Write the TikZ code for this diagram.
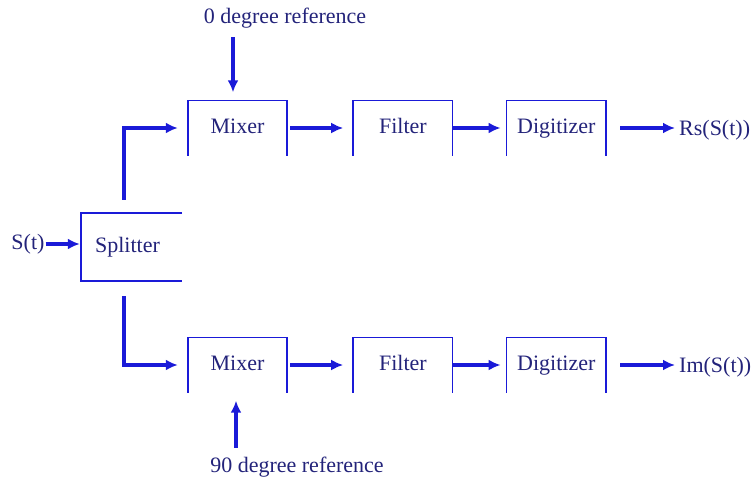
\documentclass[tikz,border=0pt]{standalone}
\usepackage{fontspec}
\setmainfont{Liberation Serif}
\usepackage{tikz}
\usetikzlibrary{arrows.meta,positioning}
\definecolor{sigblue}{HTML}{1A1AD8}
\definecolor{signavy}{HTML}{23237A}
\tikzset{
  blockbox/.style={
    minimum width=99pt,
    minimum height=55pt,
    inner sep=0pt,
    text height=15pt,
    text depth=5pt,
    text=signavy,
    font=\fontsize{22}{24}\selectfont
  },
  openline/.style={
    draw=sigblue,
    line width=1.6pt
  },
  sigtext/.style={
    inner sep=1pt,
    text=signavy,
    font=\fontsize{22}{24}\selectfont
  },
  arrow/.style={
    -{Latex[length=12pt,width=11pt]},
    line width=3.2pt,
    draw=sigblue
  }
}
\begin{document}
\begin{tikzpicture}[x=1pt,y=-1pt]
\useasboundingbox (0,0) rectangle (752,487);
% blocks
\node[blockbox, minimum width=101pt, minimum height=68pt] (split) at (131.5,247) {\hspace*{-8pt}Splitter};
\node[blockbox] (mixa) at (237.5,128) {Mixer};
\node[blockbox, right=66pt of mixa] (filta) {Filter};
\node[blockbox, right=54pt of filta] (diga) {Digitizer};
\node[blockbox] (mixb) at (237.5,365) {Mixer};
\node[blockbox, right=66pt of mixb] (filtb) {Filter};
\node[blockbox, right=54pt of filtb] (digb) {Digitizer};
% open outlines
\foreach \b in {mixa,filta,diga,mixb,filtb,digb}
  \draw[openline] (\b.south west) -- (\b.north west) -- (\b.north east) -- (\b.south east);
\draw[openline] (split.north east) -- (split.north west) -- (split.south west) -- (split.south east);
% signals
\node[sigtext] (sin) at (28,244) {S(t)};
\node[sigtext, anchor=west] (outa) at (678,130) {Rs(S(t))};
\node[sigtext, anchor=west] (outb) at (678,367) {Im(S(t))};
\node[sigtext] (refa) at (285,18) {0 degree reference};
\node[sigtext] (refb) at (297,467) {90 degree reference};
% connectors
\draw[arrow, shorten >=1pt] (sin.east) -- (sin.east -| split.west);
\draw[arrow, shorten >=10pt] ([xshift=-7.5pt,yshift=13pt]split.north) |- (mixa.west);
\draw[arrow, shorten >=10pt] ([xshift=-7.5pt,yshift=-15pt]split.south) |- (mixb.west);
\draw[arrow, shorten <=3pt, shorten >=10pt] (mixa.east) -- (filta.west);
\draw[arrow, shorten >=6pt] (filta.east) -- (diga.west);
\draw[arrow, shorten <=14pt, shorten >=3pt] (diga.east) -- (diga.east -| outa.west);
\draw[arrow, shorten <=3pt, shorten >=10pt] (mixb.east) -- (filtb.west);
\draw[arrow, shorten >=6pt] (filtb.east) -- (digb.west);
\draw[arrow, shorten <=14pt, shorten >=3pt] (digb.east) -- (digb.east -| outb.west);
\draw[arrow, shorten <=8pt, shorten >=8pt] (refa.south -| mixa.north) ++(-4.5,0) coordinate (ra) -- (ra |- mixa.north);
\draw[arrow, shorten <=8pt, shorten >=8pt] (refb.north -| mixb.south) ++(-1.5,0) coordinate (rb) -- (rb |- mixb.south);
\end{tikzpicture}
\end{document}
